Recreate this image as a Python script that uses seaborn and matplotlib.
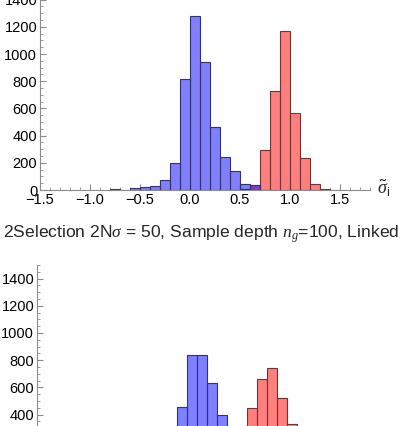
import numpy as np
import pandas as pd
import matplotlib
matplotlib.use("Agg")
import matplotlib.pyplot as plt
import seaborn as sns
from matplotlib.ticker import MultipleLocator

sns.set_style("white")
plt.rcParams['font.family'] = ['Liberation Sans', 'DejaVu Sans']
plt.rcParams['mathtext.fontset'] = 'custom'
plt.rcParams['mathtext.rm'] = 'Liberation Sans'
plt.rcParams['mathtext.it'] = 'Liberation Serif:italic'
plt.rcParams['mathtext.bf'] = 'Liberation Sans:bold'

# ---- data: bin left edges (width 0.1) and counts ----
bin_width = 0.1
top_blue_left = [-0.8, -0.7, -0.6, -0.5, -0.4, -0.3, -0.2, -0.1, 0.0, 0.1, 0.2, 0.3, 0.4, 0.5, 0.6]
top_blue_count = [5, 3, 17, 20, 30, 75, 200, 815, 1280, 940, 460, 245, 140, 45, 35]
top_red_left = [0.5, 0.6, 0.7, 0.8, 0.9, 1.0, 1.1, 1.2, 1.3, 1.4]
top_red_count = [8, 35, 295, 730, 1170, 565, 233, 45, 8, 2]

bot_blue_left = [-0.1, 0.0, 0.1, 0.2, 0.3]
bot_blue_count = [455, 835, 840, 630, 400]
bot_red_left = [0.6, 0.7, 0.8, 0.9, 1.0]
bot_red_count = [445, 660, 745, 520, 330]

title_text = r"2Selection 2N$\mathit{\sigma}$ = 50, Sample depth $n_g$=100, Linked"
x_label = r"$\tilde{\sigma}_{\mathrm{i}}$"
x_ticks = [-1.5, -1.0, -0.5, 0.0, 0.5, 1.0, 1.5]
x_tick_labels = ["\u22121.5", "\u22121.0", "\u22120.5", "0.0", "0.5", "1.0", "1.5"]
y_ticks = [0, 200, 400, 600, 800, 1000, 1200, 1400]

W, H = 403, 426
fig = plt.figure(figsize=(W / 100, H / 100), dpi=100)

blue_fill = (0.0, 0.0, 1.0)
red_fill = (1.0, 0.0, 0.0)
axis_col = "#8c8c8c"


def make_axes(left_px, zero_px, xmin, xmax, ymax=1500, px_per_x=100.0, px_per_count=0.136):
    width = (xmax - xmin) * px_per_x
    height = ymax * px_per_count
    ax = fig.add_axes([left_px / W, (H - zero_px) / H, width / W, height / H])
    return ax


def draw_hist(ax, lefts, counts, fill, edge):
    df = pd.DataFrame({"x": [l + bin_width / 2 for l in lefts], "w": counts})
    n = len(lefts)
    edges = [round(min(lefts) + i * bin_width, 6) for i in range(n + 1)]
    sns.histplot(data=df, x="x", weights="w", bins=edges, ax=ax, color=fill,
                 alpha=0.5, edgecolor=edge, linewidth=0.8)


def style_axes(ax, xmin, xmax, show_xlabels=True):
    ax.set_xlim(xmin, xmax)
    ax.set_ylim(0, 1500)
    for s in ["top", "right"]:
        ax.spines[s].set_visible(False)
    for s in ["left", "bottom"]:
        ax.spines[s].set_color(axis_col)
        ax.spines[s].set_linewidth(0.8)
    ax.set_xticks(x_ticks)
    ax.set_xticklabels(x_tick_labels if show_xlabels else [])
    ax.set_yticks(y_ticks)
    ax.xaxis.set_minor_locator(MultipleLocator(0.1))
    ax.yaxis.set_minor_locator(MultipleLocator(50))
    ax.tick_params(axis="both", which="major", direction="in", length=4, width=0.8,
                   color=axis_col, labelsize=10.5, pad=2, labelcolor="black")
    ax.tick_params(axis="both", which="minor", direction="in", length=2, width=0.6,
                   color=axis_col)
    ax.tick_params(axis="x", which="both", bottom=True)
    ax.tick_params(axis="y", which="both", left=True)
    ax.set_xlabel("")
    ax.set_ylabel("")
    ax.patch.set_alpha(0)


# top panel (red drawn first, blue on top so the overlap turns purple)
ax1 = make_axes(40, 190, -1.5, 1.8)
draw_hist(ax1, top_red_left, top_red_count, red_fill, (0.45, 0.2, 0.2))
draw_hist(ax1, top_blue_left, top_blue_count, blue_fill, (0.2, 0.2, 0.45))
style_axes(ax1, -1.5, 1.8)
ax1.text(1.87, 15, x_label, fontsize=13, va="center", ha="left")

# title between panels
fig.text(0.5, (H - 238) / H, title_text, fontsize=12.6, ha="center", va="baseline")

# bottom panel
ax2 = make_axes(37, 469, -1.5, 1.8)
draw_hist(ax2, bot_red_left, bot_red_count, red_fill, (0.45, 0.2, 0.2))
draw_hist(ax2, bot_blue_left, bot_blue_count, blue_fill, (0.2, 0.2, 0.45))
style_axes(ax2, -1.5, 1.8, show_xlabels=False)

fig.savefig("out.png", dpi=100)
